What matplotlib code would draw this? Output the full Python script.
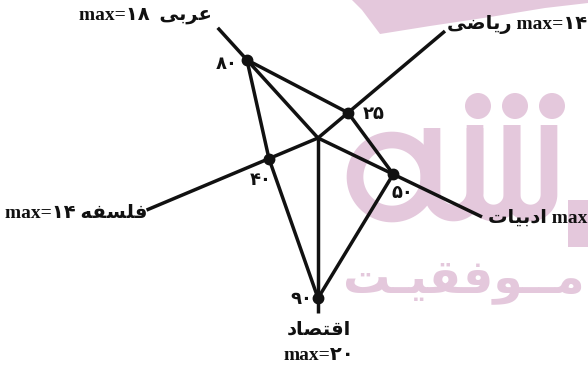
import numpy as np
import matplotlib.pyplot as plt
from matplotlib.patches import Polygon, Circle, Rectangle

# subjects in drawing order (clockwise from upper left)
subjects = ['\uFEF0\uFE91\uFEAE\uFECB',                 # عربی
            '\uFEF0\uFEBF\uFE8E\uFEF3\uFEAD',           # ریاضی
            '\uFE95\uFE8E\uFEF4\uFE91\uFEA9\uFE8D',     # ادبیات
            '\uFEA9\uFE8E\uFEBC\uFE98\uFED7\uFE8D',     # اقتصاد
            '\uFEEA\uFED4\uFEB4\uFEE0\uFED3']           # فلسفه
max_labels = ['max=\u06F1\u06F8', 'max=\u06F1\u06F4', 'max',
              'max=\u06F2\u06F0', 'max=\u06F1\u06F4']
scores = [80, 25, 50, 90, 40]
score_labels = ['\u06F8\u06F0', '\u06F2\u06F5', '\u06F5\u06F0', '\u06F9\u06F0', '\u06F4\u06F0']

# layout of the schematic (pixels)
CX, CY = 318, 138
angles = [132.3, 40.1, -25.7, -90.0, -157.2]
axis_len = [149, 166, 182, 175, 186]
px_per_unit = [1.32, 1.57, 1.67, 1.78, 1.33]

W, H = 588, 367
fig = plt.figure(figsize=(W / 100, H / 100), dpi=100)
ax = fig.add_axes([0, 0, 1, 1])
ax.set_xlim(0, W)
ax.set_ylim(H, 0)
ax.axis('off')

# --- watermark in the background ---
pink = '#e4c8dc'
ax.add_patch(Polygon([(352, 0), (362, 10), (380, 34), (430, 26), (490, 17),
                      (545, 8), (588, 3), (588, 0)], closed=True, fc=pink, ec='none', zorder=0))
th = np.linspace(0, 2 * np.pi, 100)
ax.plot(392 + 37 * np.cos(th), 177 + 37 * np.sin(th), color=pink, lw=12, zorder=0)

def u_stroke(x0, x1, ytop, ybot):
    r = (x1 - x0) / 2
    t = np.linspace(np.pi, 0, 40)
    xs = np.concatenate([[x0], x0 + r + r * np.cos(t), [x1]])
    ys = np.concatenate([[ytop], ybot - r + r * np.sin(t), [ytop]])
    return xs, ys

for x0, x1, yt in [(432, 475, 128), (475, 512, 125), (512, 549, 125)]:
    xs, ys = u_stroke(x0, x1, yt, 213)
    ax.plot(xs, ys, color=pink, lw=12, solid_capstyle='butt', zorder=0)
ax.add_patch(Rectangle((568, 200), 20, 47, fc=pink, ec='none', zorder=0))
for cx in [478, 515, 552]:
    ax.add_patch(Circle((cx, 106), 13, fc=pink, ec='none', zorder=0))
ax.text(343, 292, '\uFE96\u0640\uFEF4\uFED8\uFED3\uFEEE\u0640\u0640\uFEE3',
        color=pink, fontsize=34, fontweight='bold', family='DejaVu Sans',
        ha='left', va='baseline', zorder=0)

# --- axes and polygon ---
rad = np.radians(angles)
ends_x = CX + np.array(axis_len) * np.cos(rad)
ends_y = CY - np.array(axis_len) * np.sin(rad)
r = np.array(scores) * np.array(px_per_unit)
px = CX + r * np.cos(rad)
py = CY - r * np.sin(rad)

line_col = '#111111'
for ex, ey in zip(ends_x, ends_y):
    ax.plot([CX, ex], [CY, ey], color=line_col, lw=2.5, solid_capstyle='butt', zorder=2)
ax.plot(np.append(px, px[0]), np.append(py, py[0]), color=line_col, lw=2.5, zorder=2)
ax.plot(px, py, 'o', color=line_col, ms=7.5, zorder=3)

# value labels next to the points
lab_off = [(-20, 4), (26, 1), (9, 19), (-17, 1), (-8, 21)]
for i in range(5):
    ax.text(px[i] + lab_off[i][0], py[i] + lab_off[i][1], score_labels[i],
            fontsize=13, fontweight='bold', family='DejaVu Sans',
            ha='center', va='center', color=line_col, zorder=4)

# axis names with maxima
fam = ['Liberation Serif', 'DejaVu Sans']
kw = dict(fontsize=14, fontweight='bold', family=fam, color=line_col, va='center', zorder=4)
ax.text(212, 15, max_labels[0] + '  ' + subjects[0], ha='right', **kw)
ax.text(587, 25, subjects[1] + ' ' + max_labels[1], ha='right', **kw)
ax.text(587, 218, subjects[2] + ' ' + max_labels[2], ha='right', **kw)
ax.text(319, 330, subjects[3], ha='center', **kw)
ax.text(319, 355, max_labels[3], ha='center', **kw)
ax.text(5, 213, max_labels[4] + ' ' + subjects[4], ha='left', **kw)

fig.savefig('out.png', dpi=100)
